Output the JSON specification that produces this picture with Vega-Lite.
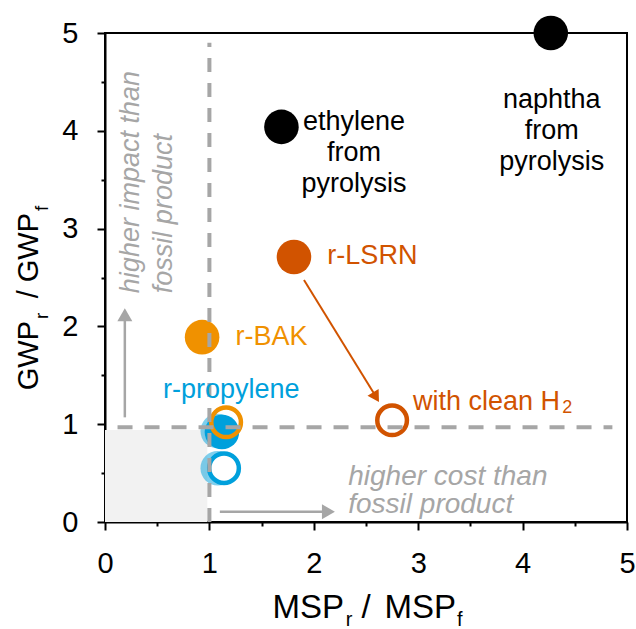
{
  "$schema": "https://vega.github.io/schema/vega-lite/v6.json",
  "width": 522,
  "height": 489,
  "autosize": {"type": "none"},
  "padding": {"left": 105, "top": 33, "right": 9, "bottom": 107},
  "background": "white",
  "config": {
    "view": {"stroke": "black", "strokeWidth": 2},
    "font": "Liberation Sans",
    "axis": {
      "domainColor": "black",
      "domainWidth": 2,
      "tickColor": "black",
      "tickWidth": 2,
      "labelFont": "Liberation Sans",
      "labelFontSize": 29,
      "labelColor": "black",
      "grid": false,
      "title": null,
      "labelOverlap": false,
      "labelFlush": false
    }
  },
  "datasets": {
    "shade": [{"x": 0, "x2": 0.98, "y": 0, "y2": 0.94}],
    "greyArrows": [
      {"part": "up", "x": 0.19, "y": 1.07, "x2": 0.19, "y2": 2.1},
      {"part": "right", "x": 1.1, "y": 0.105, "x2": 2.12, "y2": 0.105}
    ],
    "greyHeadUp": [{"x": 0.19, "y": 2.12}],
    "greyHeadRight": [{"x": 2.14, "y": 0.105}],
    "orangeArrow": [{"x": 1.906, "y": 2.474, "x2": 2.59, "y2": 1.29}],
    "orangeHead": [{"x": 2.596, "y": 1.276, "series": "LSRN"}],
    "points": [
      {"name": "ethylene from pyrolysis", "x": 1.69, "y": 4.04, "series": "pyrolysis", "kind": "solid"},
      {"name": "naphtha from pyrolysis", "x": 4.27, "y": 5.0, "series": "pyrolysis", "kind": "solid"},
      {"name": "r-LSRN", "x": 1.81, "y": 2.71, "series": "LSRN", "kind": "solid"},
      {"name": "r-BAK", "x": 0.93, "y": 1.89, "series": "BAK", "kind": "solid"},
      {"name": "r-propylene a", "x": 1.08, "y": 0.93, "series": "propylene", "kind": "faint"},
      {"name": "r-propylene b", "x": 1.08, "y": 0.55, "series": "propylene", "kind": "faint"},
      {"name": "r-propylene", "x": 1.12, "y": 0.92, "series": "propylene", "kind": "solid"},
      {"name": "r-propylene open", "x": 1.14, "y": 0.55, "series": "propylene", "kind": "ringwhite"},
      {"name": "r-BAK open", "x": 1.16, "y": 1.02, "series": "BAK", "kind": "ring"},
      {"name": "with clean H2", "x": 2.75, "y": 1.04, "series": "LSRN", "kind": "ring"}
    ],
    "dashV": [{"x": 1, "y": 0, "x2": 1, "y2": 4.9}],
    "dashH": [{"x": 0.12, "y": 0.97, "x2": 4.86, "y2": 0.97}],
    "labelsMulti": [
      {"text": "ethylene\nfrom\npyrolysis", "x": 2.385, "y": 4.09, "series": "pyrolysis"},
      {"text": "naphtha\nfrom\npyrolysis", "x": 4.28, "y": 4.31, "series": "pyrolysis"}
    ],
    "labelsLeft": [
      {"text": "r-LSRN", "x": 2.13, "y": 2.72, "series": "LSRN"},
      {"text": "r-BAK", "x": 1.25, "y": 1.89, "series": "BAK"},
      {"text": "r-propylene", "x": 0.555, "y": 1.35, "series": "propylene"},
      {"text": "with clean H", "x": 2.95, "y": 1.23, "series": "LSRN"}
    ],
    "labelSub": [{"text": "2", "x": 4.38, "y": 1.17, "series": "LSRN"}],
    "noteH": [
      {"text": "higher cost than", "x": 2.33, "y": 0.378},
      {"text": "fossil product", "x": 2.33, "y": 0.09}
    ],
    "noteV": [
      {"text": "higher impact than", "x": 0.326, "y": 2.34},
      {"text": "fossil product", "x": 0.64, "y": 2.34}
    ],
    "xTitleMain": [
      {"text": "MSP", "x": 2.289, "y": -0.98},
      {"text": "MSP", "x": 3.362, "y": -0.98}
    ],
    "xTitleSlash": [{"text": "/", "x": 2.5, "y": -0.98}],
    "xTitleSub": [
      {"text": "r", "x": 2.305, "y": -1.063},
      {"text": "f", "x": 3.372, "y": -1.063}
    ],
    "yTitleMain": [
      {"text": "GWP", "x": -0.642, "y": 2.055},
      {"text": "GWP", "x": -0.642, "y": 3.16}
    ],
    "yTitleSlash": [{"text": "/", "x": -0.642, "y": 2.33}],
    "yTitleSub": [
      {"text": "r", "x": -0.546, "y": 2.076},
      {"text": "f", "x": -0.546, "y": 3.18}
    ]
  },
  "encoding": {
    "x": {
      "field": "x",
      "type": "quantitative",
      "scale": {"domain": [0, 5], "nice": false, "zero": false},
      "axis": {
        "values": [0, 0.5, 1, 1.5, 2, 2.5, 3, 3.5, 4, 4.5, 5],
        "labelExpr": "datum.value % 1 === 0 ? format(datum.value, 'd') : ''",
        "tickSize": {"condition": {"test": "datum.value % 1 !== 0", "value": 4}, "value": 8},
        "labelPadding": 19
      }
    },
    "y": {
      "field": "y",
      "type": "quantitative",
      "scale": {"domain": [0, 5], "nice": false, "zero": false},
      "axis": {
        "values": [0, 0.5, 1, 1.5, 2, 2.5, 3, 3.5, 4, 4.5, 5],
        "labelExpr": "datum.value % 1 === 0 ? format(datum.value, 'd') : ''",
        "tickSize": {"condition": {"test": "datum.value % 1 !== 0", "value": 4}, "value": 8},
        "labelPadding": 19
      }
    }
  },
  "layer": [
    {
      "data": {"name": "shade"},
      "mark": {"type": "rect", "fill": "#F2F2F2"},
      "encoding": {"x2": {"field": "x2"}, "y2": {"field": "y2"}}
    },
    {
      "data": {"name": "greyArrows"},
      "mark": {"type": "rule", "stroke": "#A6A6A6", "strokeWidth": 2.5},
      "encoding": {"x2": {"field": "x2"}, "y2": {"field": "y2"}}
    },
    {
      "data": {"name": "greyHeadUp"},
      "mark": {"type": "point", "shape": "triangle-up", "filled": true, "fill": "#A6A6A6", "opacity": 1, "size": 225, "strokeWidth": 0}
    },
    {
      "data": {"name": "greyHeadRight"},
      "mark": {"type": "point", "shape": "triangle-right", "filled": true, "fill": "#A6A6A6", "opacity": 1, "size": 225, "strokeWidth": 0}
    },
    {
      "data": {"name": "orangeArrow"},
      "mark": {"type": "rule", "stroke": "#D15300", "strokeWidth": 2},
      "encoding": {"x2": {"field": "x2"}, "y2": {"field": "y2"}}
    },
    {
      "data": {"name": "orangeHead"},
      "mark": {"type": "point", "shape": "triangle-up", "filled": true, "fill": "#D15300", "opacity": 1, "size": 170, "angle": 148.4, "strokeWidth": 0}
    },
    {
      "data": {"name": "points"},
      "transform": [{"filter": "datum.kind === 'faint'"}],
      "mark": {"type": "point", "shape": "circle", "filled": true, "opacity": 0.5, "size": 1195, "strokeWidth": 0},
      "encoding": {
        "color": {"field": "series", "type": "nominal", "scale": {"domain": ["pyrolysis", "BAK", "propylene", "LSRN"], "range": ["#000000", "#F09100", "#00A0DC", "#D15300"]}, "legend": null}
      }
    },
    {
      "data": {"name": "points"},
      "transform": [{"filter": "datum.kind === 'solid'"}],
      "mark": {"type": "point", "shape": "circle", "filled": true, "opacity": 1, "size": 1195, "strokeWidth": 0},
      "encoding": {
        "color": {"field": "series", "type": "nominal", "scale": {"domain": ["pyrolysis", "BAK", "propylene", "LSRN"], "range": ["#000000", "#F09100", "#00A0DC", "#D15300"]}, "legend": null}
      }
    },
    {
      "data": {"name": "points"},
      "transform": [{"filter": "datum.kind === 'ringwhite'"}],
      "mark": {"type": "point", "shape": "circle", "filled": false, "fill": "white", "fillOpacity": 1, "opacity": 1, "size": 880, "strokeWidth": 4.5},
      "encoding": {
        "stroke": {"field": "series", "type": "nominal", "scale": {"domain": ["pyrolysis", "BAK", "propylene", "LSRN"], "range": ["#000000", "#F09100", "#00A0DC", "#D15300"]}, "legend": null}
      }
    },
    {
      "data": {"name": "points"},
      "transform": [{"filter": "datum.kind === 'ring'"}],
      "mark": {"type": "point", "shape": "circle", "filled": false, "opacity": 1, "size": 880, "strokeWidth": 4.5},
      "encoding": {
        "stroke": {"field": "series", "type": "nominal", "scale": {"domain": ["pyrolysis", "BAK", "propylene", "LSRN"], "range": ["#000000", "#F09100", "#00A0DC", "#D15300"]}, "legend": null}
      }
    },
    {
      "data": {"name": "dashV"},
      "mark": {"type": "rule", "stroke": "#A6A6A6", "strokeWidth": 4, "strokeDash": [14, 11]},
      "encoding": {"x2": {"field": "x2"}, "y2": {"field": "y2"}}
    },
    {
      "data": {"name": "dashH"},
      "mark": {"type": "rule", "stroke": "#A6A6A6", "strokeWidth": 4, "strokeDash": [15, 12]},
      "encoding": {"x2": {"field": "x2"}, "y2": {"field": "y2"}}
    },
    {
      "data": {"name": "labelsMulti"},
      "mark": {"type": "text", "align": "center", "baseline": "middle", "lineBreak": "\n", "fontSize": 27, "lineHeight": 31},
      "encoding": {
        "text": {"field": "text"},
        "color": {"field": "series", "type": "nominal", "scale": {"domain": ["pyrolysis", "BAK", "propylene", "LSRN"], "range": ["#000000", "#F09100", "#00A0DC", "#D15300"]}, "legend": null}
      }
    },
    {
      "data": {"name": "labelsLeft"},
      "mark": {"type": "text", "align": "left", "baseline": "middle", "fontSize": 27},
      "encoding": {
        "text": {"field": "text"},
        "color": {"field": "series", "type": "nominal", "scale": {"domain": ["pyrolysis", "BAK", "propylene", "LSRN"], "range": ["#000000", "#F09100", "#00A0DC", "#D15300"]}, "legend": null}
      }
    },
    {
      "data": {"name": "labelSub"},
      "mark": {"type": "text", "align": "left", "baseline": "middle", "fontSize": 18},
      "encoding": {
        "text": {"field": "text"},
        "color": {"field": "series", "type": "nominal", "scale": {"domain": ["pyrolysis", "BAK", "propylene", "LSRN"], "range": ["#000000", "#F09100", "#00A0DC", "#D15300"]}, "legend": null}
      }
    },
    {
      "data": {"name": "noteH"},
      "mark": {"type": "text", "align": "left", "baseline": "alphabetic", "fontSize": 28, "fontStyle": "italic", "fill": "#A6A6A6"},
      "encoding": {"text": {"field": "text"}}
    },
    {
      "data": {"name": "noteV"},
      "mark": {"type": "text", "align": "left", "baseline": "alphabetic", "angle": 270, "fontSize": 27, "fontStyle": "italic", "fill": "#A6A6A6"},
      "encoding": {"text": {"field": "text"}}
    },
    {
      "data": {"name": "xTitleMain"},
      "mark": {"type": "text", "align": "right", "baseline": "alphabetic", "fontSize": 33, "fill": "black"},
      "encoding": {"text": {"field": "text"}}
    },
    {
      "data": {"name": "xTitleSlash"},
      "mark": {"type": "text", "align": "center", "baseline": "alphabetic", "fontSize": 33, "fill": "black"},
      "encoding": {"text": {"field": "text"}}
    },
    {
      "data": {"name": "xTitleSub"},
      "mark": {"type": "text", "align": "left", "baseline": "alphabetic", "fontSize": 20, "fill": "black"},
      "encoding": {"text": {"field": "text"}}
    },
    {
      "data": {"name": "yTitleMain"},
      "mark": {"type": "text", "align": "right", "baseline": "alphabetic", "angle": 270, "fontSize": 29, "fill": "black"},
      "encoding": {"text": {"field": "text"}}
    },
    {
      "data": {"name": "yTitleSlash"},
      "mark": {"type": "text", "align": "center", "baseline": "alphabetic", "angle": 270, "fontSize": 29, "fill": "black"},
      "encoding": {"text": {"field": "text"}}
    },
    {
      "data": {"name": "yTitleSub"},
      "mark": {"type": "text", "align": "left", "baseline": "alphabetic", "angle": 270, "fontSize": 19, "fill": "black"},
      "encoding": {"text": {"field": "text"}}
    }
  ]
}
